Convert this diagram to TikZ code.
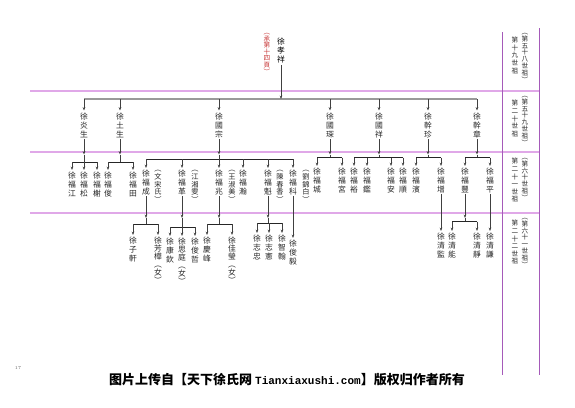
\documentclass[tikz,border=0pt]{standalone}
\usepackage{fontspec}
\usetikzlibrary{arrows.meta}
\newfontfamily\tcf{Noto Sans CJK TC}
\newfontfamily\scf{Noto Sans CJK SC}
\newfontfamily\monof{Liberation Mono}
\definecolor{hline}{RGB}{224,168,232}
\definecolor{vline}{RGB}{165,90,185}
\definecolor{txt}{RGB}{40,40,40}
\definecolor{redt}{RGB}{200,55,55}
\tikzset{
  vname/.style={anchor=north, align=center, inner sep=0pt, text=txt,
    font=\tcf\fontsize{7.8}{8.7}\selectfont},
  vgirl/.style={vname, font=\tcf\fontsize{7.8}{7.9}\selectfont},
  vspouse/.style={vname, font=\tcf\fontsize{7.2}{7.8}\selectfont},
  vtab/.style={vname, font=\tcf\fontsize{6.6}{7.6}\selectfont},
  vtabp/.style={vname, font=\tcf\fontsize{6.6}{6.8}\selectfont},
  conn/.style={draw=black!75, line width=0.6pt},
  arr/.style={conn, -{Stealth[length=3.4pt,width=2.6pt]}},
  tbar/.style={draw=black!85, line width=0.8pt},
  gbar/.style={draw=black!40, line width=1.3pt},
  genline/.style={draw=hline, line width=1.4pt},
  tabline/.style={draw=vline, line width=0.8pt},
}
\newcommand\famline[6]{%
  \draw[arr,shorten <=1pt] (#1.south) -- (#1.south |- #2);
  \draw[conn] (#1.south |- #2) -- (#1.south |- #3);
  \draw[tbar] (#4.north |- #3) -- (#5.north |- #3);
  \foreach \c in {#6} {\draw[arr,shorten >=2pt] (\c.north |- #3) -- (\c.north);}
}
\begin{document}
\begin{tikzpicture}[x=1pt,y=-1pt]
\fill[white] (0,0) rectangle (575,407);
\useasboundingbox (0,0) rectangle (575,407);

% generation lines and table
\coordinate (L1) at (30,91);
\coordinate (L2) at (30,152);
\coordinate (L3) at (30,213);
\coordinate (TA) at (502,32);
\coordinate (TB) at (539,28);
\coordinate (TAe) at (502,375);
\coordinate (TBe) at (539,375);
\draw[genline] (L1) -- (TB |- L1);
\draw[genline] (L2) -- (TB |- L2);
\draw[genline] (L3) -- (TB |- L3);
\draw[tabline] (TA) -- (TAe);
\draw[tabline] (TB) -- (TBe);

% table texts
\node[vtab]  (r1a) at (515,37) {第\\十\\九\\世\\祖};
\node[vtabp] (r1b) at (525,33) {︵\\第\\五\\十\\八\\世\\祖\\︶};
\node[vtab]  (r2a) at (515,100) {第\\二\\十\\世\\祖};
\node[vtabp] (r2b) at (525,96) {︵\\第\\五\\十\\九\\世\\祖\\︶};
\node[vtab]  (r3a) at (515,158) {第\\二\\十\\一\\世\\祖};
\node[vtabp] (r3b) at (525,158) {︵\\第\\六\\十\\世\\祖\\︶};
\node[vtab]  (r4a) at (515,220) {第\\二\\十\\二\\世\\祖};
\node[vtabp] (r4b) at (525,218) {︵\\第\\六\\十\\一\\世\\祖\\︶};

% root
\node[vname, text=black] (root) at (281,38) {徐\\孝\\祥};
\node[vname, text=redt, font=\tcf\fontsize{6.6}{6.6}\selectfont] (ref) at (267,33) {︵\\承\\第\\十\\四\\頁\\︶};

% generation 2
\coordinate (bar2) at (0,99);
\node[vname] (g2a) at (84,113) {徐\\炎\\生};
\node[vname] (g2b) at (120,113) {徐\\土\\生};
\node[vname] (g2c) at (219,113) {徐\\國\\宗};
\node[vname] (g2d) at (330,113) {徐\\國\\琛};
\node[vname] (g2e) at (379,113) {徐\\國\\祥};
\node[vname] (g2f) at (428,113) {徐\\幹\\珍};
\node[vname] (g2g) at (477,113) {徐\\幹\\章};
\draw[gbar] (g2a.north |- bar2) -- (g2g.north |- bar2);
\draw[arr,shorten <=2pt] (root.south) -- (root.south |- bar2);
\foreach \c in {g2a,g2b,g2c,g2d,g2e,g2f,g2g} {\draw[arr,shorten >=2.5pt] (\c.north |- bar2) -- (\c.north);}

% generation 3
\coordinate (m2) at (0,154.5);
\coordinate (b31) at (0,162);
\coordinate (b33) at (0,159);
\coordinate (b34) at (0,157.5);
\node[vname] (c1a) at (72,172) {徐\\福\\江};
\node[vname] (c1b) at (84,172) {徐\\福\\松};
\node[vname] (c1c) at (97,172) {徐\\福\\榭};
\node[vname] (c2a) at (108,172) {徐\\福\\俊};
\node[vname] (c2b) at (133,172) {徐\\福\\田};
\node[vname] (c3a) at (146,170) {徐\\福\\成};
\node[vspouse] (s3a) at (158,170) {︵\\文\\宋\\氏\\︶};
\node[vname] (c3b) at (182,170) {徐\\福\\革};
\node[vspouse] (s3b) at (195,170) {︵\\江\\湘\\雯\\︶};
\node[vname] (c3c) at (219,170) {徐\\福\\兆};
\node[vspouse] (s3c) at (232,170) {︵\\王\\淑\\美\\︶};
\node[vname] (c3d) at (243,170) {徐\\福\\瀚};
\node[vname] (c3e) at (268,170) {徐\\福\\魁};
\node[vspouse] (s3e) at (280,170) {︵\\陳\\春\\香\\︶};
\node[vname] (c3f) at (293,170) {徐\\福\\科};
\node[vspouse] (s3f) at (306,170) {︵\\劉\\錦\\白\\︶};
\node[vname] (c4a) at (317,168) {徐\\福\\城};
\node[vname] (c4b) at (342,168) {徐\\福\\宮};
\node[vname] (c5a) at (354,168) {徐\\福\\裕};
\node[vname] (c5b) at (367,168) {徐\\福\\鑑};
\node[vname] (c5c) at (391,168) {徐\\福\\安};
\node[vname] (c5d) at (403,168) {徐\\福\\順};
\node[vname] (c6a) at (416,168) {徐\\福\\濱};
\node[vname] (c6b) at (441,168) {徐\\福\\增};
\node[vname] (c7a) at (465,168) {徐\\福\\豐};
\node[vname] (c7b) at (490,168) {徐\\福\\平};
\famline{g2a}{m2}{b31}{c1a}{c1c}{c1a,c1b,c1c}
\famline{g2b}{m2}{b31}{c2a}{c2b}{c2a,c2b}
\famline{g2c}{m2}{b33}{c3a}{c3f}{c3a,c3b,c3c,c3d,c3e,c3f}
\famline{g2d}{m2}{b34}{c4a}{c4b}{c4a,c4b}
\famline{g2e}{m2}{b34}{c5a}{c5d}{c5a,c5b,c5c,c5d}
\famline{g2f}{m2}{b34}{c6a}{c6b}{c6a,c6b}
\famline{g2g}{m2}{b34}{c7a}{c7b}{c7a,c7b}

% generation 4
\coordinate (m3) at (0,218);
\coordinate (b41) at (0,224);
\coordinate (b42) at (0,227);
\coordinate (b44) at (0,223);
\coordinate (b47) at (0,221.5);
\node[vname] (d1a) at (133,237) {徐\\子\\軒};
\node[vgirl] (d1b) at (158,237) {徐\\芳\\樺\\︵\\女\\︶};
\node[vname] (d2a) at (170,238) {徐\\康\\欽};
\node[vgirl] (d2b) at (182,238) {徐\\思\\庭\\︵\\女\\︶};
\node[vname] (d2c) at (195,238) {徐\\俊\\哲};
\node[vname] (d3a) at (207,237) {徐\\慶\\峰};
\node[vgirl] (d3b) at (232,237) {徐\\佳\\瑩\\︵\\女\\︶};
\node[vname] (d4a) at (257,235) {徐\\志\\忠};
\node[vname] (d4b) at (269,235) {徐\\志\\憲};
\node[vname] (d4c) at (282,235) {徐\\智\\翰};
\node[vname] (d5a) at (293,240) {徐\\俊\\毅};
\node[vname] (d6a) at (441,233) {徐\\清\\監};
\node[vname] (d7a) at (452,233) {徐\\清\\能};
\node[vname] (d7b) at (477,233) {徐\\清\\靜};
\node[vname] (d8a) at (490,233) {徐\\清\\謙};
\famline{c3a}{m3}{b41}{d1a}{d1b}{d1a,d1b}
\famline{c3b}{m3}{b42}{d2a}{d2c}{d2a,d2b,d2c}
\famline{c3c}{m3}{b41}{d3a}{d3b}{d3a,d3b}
\famline{c3e}{m3}{b44}{d4a}{d4c}{d4a,d4b,d4c}
\famline{c7a}{m3}{b47}{d7a}{d7b}{d7a,d7b}
\draw[arr,shorten <=1pt,shorten >=2pt] (c3f.south) -- (d5a.north);
\draw[arr,shorten <=1pt,shorten >=2pt] (c6b.south) -- (d6a.north);
\draw[arr,shorten <=1pt,shorten >=2pt] (c7b.south) -- (d8a.north);

% footer
\node[text=black!60, font=\fontsize{4.5}{5}\selectfont, inner sep=0pt] (pg) at (18,368) {17};
\node[inner sep=0pt, font=\scf\bfseries\fontsize{13}{14}\selectfont] (foot) at (287,380)
  {图片上传自【天下徐氏网 {\monof\bfseries\fontsize{11}{12}\selectfont Tianxiaxushi.com}】版权归作者所有};
\end{tikzpicture}
\end{document}
